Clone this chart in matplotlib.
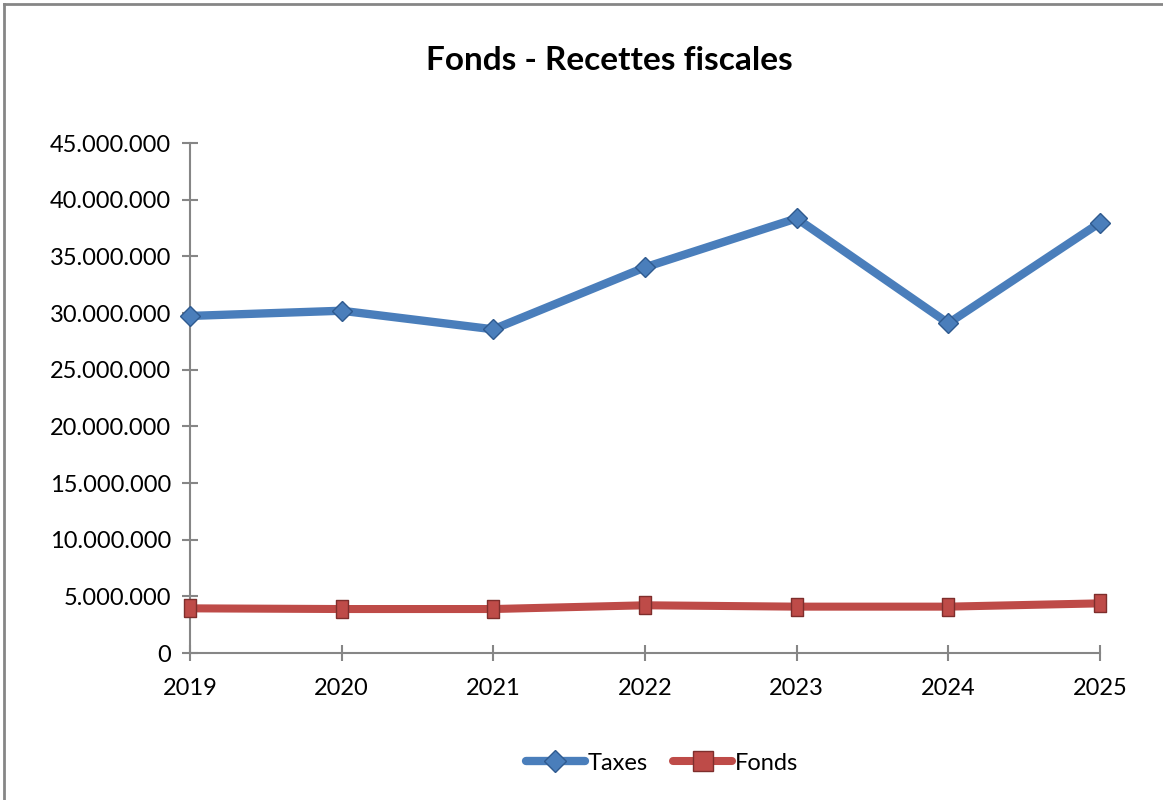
import matplotlib
matplotlib.use("Agg")
from matplotlib import pyplot as plt
from matplotlib.lines import Line2D
from matplotlib.ticker import FuncFormatter, MultipleLocator

# donnees
annees = [2019, 2020, 2021, 2022, 2023, 2024, 2025]
taxes = [29740000, 30200000, 28560000, 34030000, 38350000, 29090000, 37970000]
fonds = [3940000, 3880000, 3880000, 4210000, 4090000, 4090000, 4380000]

bleu = "#4A7EBB"
bleu_bord = "#2F5A8F"
rouge = "#BE4B48"
rouge_bord = "#7E2E2C"
gris = "#868686"

plt.rcParams['font.family'] = ['Lato', 'DejaVu Sans']

fig = plt.figure(figsize=(11.63, 8), dpi=100)
ax = fig.add_axes([190 / 1163, 1 - 653 / 800, 910 / 1163, 510 / 800])

# rectangle vertical pour les marqueurs de Fonds
rect = [(-0.3, -0.5), (0.3, -0.5), (0.3, 0.5), (-0.3, 0.5), (-0.3, -0.5)]

ax.plot(annees, taxes, color=bleu, lw=6, marker='D', ms=10.5,
        mfc=bleu, mec=bleu_bord, mew=1, solid_capstyle='round', zorder=3, clip_on=False)
ax.plot(annees, fonds, color=rouge, lw=5.8, marker=rect, ms=13.5,
        mfc=rouge, mec=rouge_bord, mew=1, solid_capstyle='round', zorder=3, clip_on=False)

ax.set_xlim(2019, 2025)
ax.set_ylim(0, 45000000)
ax.set_xticks(annees)
ax.yaxis.set_major_locator(MultipleLocator(5000000))
ax.yaxis.set_major_formatter(FuncFormatter(lambda v, p: f"{v:,.0f}".replace(',', '.')))

for s in ['top', 'right']:
    ax.spines[s].set_visible(False)
for s in ['left', 'bottom']:
    ax.spines[s].set_color(gris)
    ax.spines[s].set_linewidth(1.5)
ax.tick_params(axis='both', direction='inout', length=11.5, width=1.5, color=gris,
               labelsize=17, labelcolor='black', pad=8)
ax.tick_params(axis='x', pad=12)

fig.text(609 / 1163, 1 - 60 / 800, "Fonds - Recettes fiscales", ha='center', va='center',
         fontsize=24, fontweight='bold')

# bordure du graphique (gauche et haut)
fig.add_artist(Line2D([4 / 1163, 4 / 1163], [0, 1 - 4 / 800], transform=fig.transFigure, color=gris, lw=2))
fig.add_artist(Line2D([4 / 1163, 1], [1 - 4 / 800, 1 - 4 / 800], transform=fig.transFigure, color=gris, lw=2))

poignees = [
    Line2D([], [], color=bleu, lw=6, marker='D', ms=11, mfc=bleu, mec=bleu_bord, solid_capstyle='round'),
    Line2D([], [], color=rouge, lw=5.8, marker='s', ms=14, mfc=rouge, mec=rouge_bord, solid_capstyle='round'),
]
fig.legend(poignees, ["Taxes", "Fonds"], loc='center', bbox_to_anchor=(662 / 1163, 1 - 763 / 800),
           ncol=2, frameon=False, fontsize=17, handlelength=2.5, handletextpad=0.1, columnspacing=1.1)

fig.savefig("out.png", dpi=100)
